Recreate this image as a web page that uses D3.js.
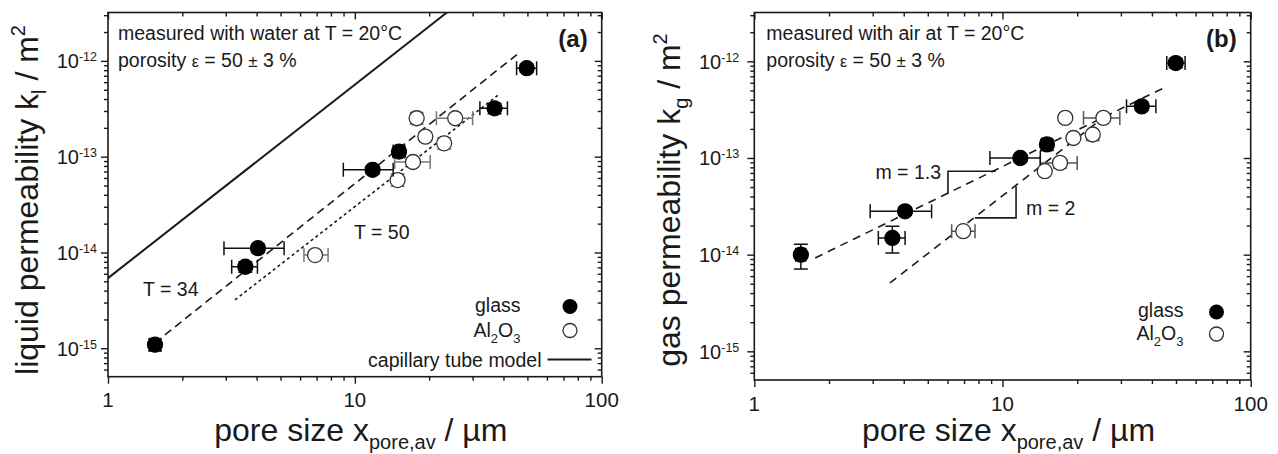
<!DOCTYPE html>
<html>
<head>
<meta charset="utf-8">
<script src="https://cdn.jsdelivr.net/npm/d3@7"></script>
<style>
  html, body { margin: 0; padding: 0; background: #fff; }
  svg { display: block; font-family: "Liberation Sans", Arial, sans-serif; }
</style>
</head>
<body>
<svg id="chart" width="1278" height="454"></svg>
<script>
// ---------- shared ticks ----------
const xTickValues = [1, 10, 100];
const xTickLabels = ["1", "10", "100"];
const yTickValues = [1e-15, 1e-14, 1e-13, 1e-12];
const yTickExps = ["-15", "-14", "-13", "-12"];

// ---------- panel (a): liquid permeability ----------
const aGlassX   = [1.55, 3.6, 4.05, 11.8, 15.1, 36.8, 49.7];
const aGlassK   = [1.09e-15, 7.1e-15, 1.11e-14, 7.3e-14, 1.13e-13, 3.2e-13, 8.4e-13];
const aGlassXLo = [1.48, 3.17, 2.95, 8.98, 14.3, 32.1, 45.2];
const aGlassXHi = [1.63, 4.03, 5.17, 14.3, 15.9, 41.5, 54.5];
const aGlassKLo = [0.94e-15, 6.2e-15, 1.0e-14, 6.6e-14, 1.0e-13, 2.8e-13, 7.6e-13];
const aGlassKHi = [1.25e-15, 8.0e-15, 1.22e-14, 8.0e-14, 1.25e-13, 3.6e-13, 9.2e-13];

const aAlX   = [6.9, 14.9, 17.2, 19.3, 17.8, 23.0, 25.5];
const aAlK   = [9.4e-15, 5.7e-14, 8.8e-14, 1.62e-13, 2.52e-13, 1.38e-13, 2.52e-13];
const aAlXLo = [6.22, 14.3, 14.5, 19.3, 17.1, 22.2, 21.4];
const aAlXHi = [7.79, 15.5, 20.2, 19.3, 18.5, 23.8, 30.0];
const aAlKLo = [8.6e-15, 4.9e-14, 8.8e-14, 1.62e-13, 2.2e-13, 1.2e-13, 2.52e-13];
const aAlKHi = [1.03e-14, 6.6e-14, 8.8e-14, 1.62e-13, 2.9e-13, 1.58e-13, 2.52e-13];

const aCapillaryX = [1, 23.6];
const aCapillaryK = [5.4e-15, 3.2e-12];
const aFitT34X = [1.70, 46.0];
const aFitT34K = [1.38e-15, 1.2e-12];
const aFitT50X = [3.27, 38.1];
const aFitT50K = [3.2e-15, 4.4e-13];

// ---------- panel (b): gas permeability ----------
const bGlassX   = [1.54, 3.6, 4.05, 11.8, 15.1, 36.4, 49.9];
const bGlassK   = [1.0e-14, 1.49e-14, 2.81e-14, 1.0e-13, 1.38e-13, 3.42e-13, 9.6e-13];
const bGlassXLo = [1.47, 3.16, 2.93, 8.9, 14.4, 31.6, 45.9];
const bGlassXHi = [1.61, 4.05, 5.18, 14.2, 15.8, 41.5, 54.4];
const bGlassKLo = [7.1e-15, 1.04e-14, 2.55e-14, 9.2e-14, 1.2e-13, 3.1e-13, 8.6e-13];
const bGlassKHi = [1.28e-14, 1.97e-14, 3.1e-14, 1.08e-13, 1.55e-13, 3.75e-13, 1.07e-12];

const bAlX   = [6.95, 14.8, 17.05, 19.3, 17.9, 23.1, 25.5];
const bAlK   = [1.75e-14, 7.3e-14, 8.9e-14, 1.61e-13, 2.6e-13, 1.75e-13, 2.6e-13];
const bAlXLo = [6.24, 14.8, 14.2, 19.3, 17.9, 23.1, 21.2];
const bAlXHi = [7.75, 14.8, 20.0, 19.3, 17.9, 23.1, 29.7];
const bAlKLo = [1.6e-14, 7.3e-14, 7.9e-14, 1.61e-13, 2.6e-13, 1.52e-13, 2.6e-13];
const bAlKHi = [1.9e-14, 7.3e-14, 8.9e-14, 1.61e-13, 2.6e-13, 1.75e-13, 2.6e-13];

const bFitGlassX = [1.76, 45.9];
const bFitGlassK = [9.25e-15, 5.5e-13];
const bFitAlX = [3.52, 25.9];
const bFitAlK = [5.1e-15, 2.7e-13];
// slope triangles (corner points)
const bTri13X = [6.03, 6.03, 9.38];
const bTri13K = [4.25e-14, 7.29e-14, 7.29e-14];
const bTri2X  = [7.75, 11.34, 11.34];
const bTri2K  = [2.4e-14, 2.4e-14, 5.09e-14];

const xDomain = [1, 100];
const yDomain = [5.05e-16, 3.2e-12];

const svg = d3.select("#chart");
const ink = "#1a1a1a";
const fs = 19.5;

function zip(xs, ys) { return xs.map((x, i) => [x, ys[i]]); }

function drawPanel(p) {
  const g = svg.append("g");
  const x = d3.scaleLog().domain(xDomain).range([p.left, p.right]);
  const y = d3.scaleLog().domain(yDomain).range([p.bottom, p.top]);
  const clipId = "clip" + p.id;
  svg.append("clipPath").attr("id", clipId).append("rect")
    .attr("x", p.left).attr("y", p.top)
    .attr("width", p.right - p.left).attr("height", p.bottom - p.top);

  const xMinor = [];
  [1, 10].forEach(d => { for (let m = 2; m <= 9; m++) xMinor.push(d * m); });
  const yMinor = [];
  [1e-16, 1e-15, 1e-14, 1e-13, 1e-12].forEach(d => {
    for (let m = 2; m <= 9; m++) { const v = d * m; if (v >= yDomain[0] && v <= yDomain[1]) yMinor.push(v); }
  });

  function styleAxis(sel) {
    sel.select(".domain").remove();
    sel.selectAll("line").attr("stroke", ink).attr("stroke-width", 1.4);
    sel.selectAll("text").remove();
  }
  g.append("g").attr("transform", `translate(0,${p.bottom})`)
    .call(d3.axisBottom(x).tickValues(xTickValues).tickSize(7)).call(styleAxis);
  g.append("g").attr("transform", `translate(0,${p.bottom})`)
    .call(d3.axisBottom(x).tickValues(xMinor).tickSize(4)).call(styleAxis);
  g.append("g").attr("transform", `translate(0,${p.top})`)
    .call(d3.axisBottom(x).tickValues(xTickValues).tickSize(7)).call(styleAxis);
  g.append("g").attr("transform", `translate(0,${p.top})`)
    .call(d3.axisBottom(x).tickValues(xMinor).tickSize(4)).call(styleAxis);
  g.append("g").attr("transform", `translate(${p.left},0)`)
    .call(d3.axisLeft(y).tickValues(yTickValues).tickSize(7)).call(styleAxis);
  g.append("g").attr("transform", `translate(${p.left},0)`)
    .call(d3.axisLeft(y).tickValues(yMinor).tickSize(4)).call(styleAxis);
  g.append("g").attr("transform", `translate(${p.right},0)`)
    .call(d3.axisLeft(y).tickValues(yTickValues).tickSize(7)).call(styleAxis);
  g.append("g").attr("transform", `translate(${p.right},0)`)
    .call(d3.axisLeft(y).tickValues(yMinor).tickSize(4)).call(styleAxis);

  g.append("rect").attr("x", p.left).attr("y", p.top)
    .attr("width", p.right - p.left).attr("height", p.bottom - p.top)
    .attr("fill", "none").attr("stroke", ink).attr("stroke-width", 1.6);

  xTickValues.forEach((v, i) => {
    g.append("text").attr("x", x(v)).attr("y", p.bottom + 30.5)
      .attr("text-anchor", "middle").attr("font-size", 20.5).attr("fill", ink)
      .text(xTickLabels[i]);
  });
  yTickValues.forEach((v, i) => {
    const t = g.append("text").attr("x", p.left - p.ylabGap).attr("y", y(v) + 7.5)
      .attr("text-anchor", "end").attr("font-size", 20).attr("fill", ink);
    t.append("tspan").text("10");
    t.append("tspan").attr("font-size", 12.5).attr("dy", -7).text(yTickExps[i]);
  });

  const xt = g.append("text").attr("x", (p.left + p.right) / 2 + 6).attr("y", 441)
    .attr("text-anchor", "middle").attr("font-size", 32).attr("fill", ink);
  xt.append("tspan").text("pore size x");
  xt.append("tspan").attr("font-size", 20).attr("dy", 8).text("pore,av");
  xt.append("tspan").attr("dy", -8).text(" / \u00B5m");

  const yt = g.append("text")
    .attr("transform", `translate(${p.left - p.ytitleOff},200) rotate(-90)`)
    .attr("text-anchor", "middle").attr("font-size", 32).attr("fill", ink);
  yt.append("tspan").text(p.ytitleMain);
  yt.append("tspan").attr("font-size", 20).attr("dy", 8).text(p.ytitleSub);
  yt.append("tspan").attr("dy", -8).text(" / m");
  yt.append("tspan").attr("font-size", 20).attr("dy", -13).text("2");

  g.append("text").attr("x", p.left + p.noteOff).attr("y", 40)
    .attr("font-size", fs).attr("fill", ink).text(p.note1);
  const n2 = g.append("text").attr("x", p.left + p.noteOff).attr("y", 67)
    .attr("font-size", fs).attr("fill", ink);
  n2.append("tspan").text("porosity ");
  n2.append("tspan").attr("font-size", 16).text("\u03B5");
  n2.append("tspan").text(" = 50 ");
  n2.append("tspan").attr("font-size", 17).text("\u00B1");
  n2.append("tspan").text(" 3 %");
  g.append("text").attr("x", p.right - 14).attr("y", 47)
    .attr("text-anchor", "end").attr("font-size", 24).attr("font-weight", "bold")
    .attr("fill", ink).text(p.tag);

  const plot = g.append("g").attr("clip-path", `url(#${clipId})`);
  const line = d3.line().x(d => x(d[0])).y(d => y(d[1]));

  p.lines.forEach(L => {
    plot.append("path").attr("d", line(zip(L.x, L.k)))
      .attr("fill", "none").attr("stroke", ink).attr("stroke-width", L.w)
      .attr("stroke-dasharray", L.dash || null);
  });
  (p.polylines || []).forEach(L => {
    plot.append("path").attr("d", line(zip(L.x, L.k)))
      .attr("fill", "none").attr("stroke", ink).attr("stroke-width", 1.6);
  });

  function drawSeries(s) {
    const cap = 7;
    const col = s.errColor;
    s.x.forEach((xv, i) => {
      const cx = x(xv), cy = y(s.k[i]);
      const x0 = x(s.xLo[i]), x1 = x(s.xHi[i]);
      const y0 = y(s.kLo[i]), y1 = y(s.kHi[i]);
      const eg = plot.append("g").attr("stroke", col).attr("stroke-width", 1.5).attr("fill", "none");
      if (Math.abs(x1 - x0) > 0.5) {
        eg.append("line").attr("x1", x0).attr("x2", x1).attr("y1", cy).attr("y2", cy);
        eg.append("line").attr("x1", x0).attr("x2", x0).attr("y1", cy - cap).attr("y2", cy + cap);
        eg.append("line").attr("x1", x1).attr("x2", x1).attr("y1", cy - cap).attr("y2", cy + cap);
      }
      if (Math.abs(y1 - y0) > 0.5) {
        eg.append("line").attr("x1", cx).attr("x2", cx).attr("y1", y0).attr("y2", y1);
        if (Math.abs(y0 - cy) > 0.5) eg.append("line").attr("x1", cx - cap).attr("x2", cx + cap).attr("y1", y0).attr("y2", y0);
        if (Math.abs(y1 - cy) > 0.5) eg.append("line").attr("x1", cx - cap).attr("x2", cx + cap).attr("y1", y1).attr("y2", y1);
      }
    });
    plot.selectAll(null).data(s.x.map((xv, i) => [xv, s.k[i]])).enter().append("circle")
      .attr("cx", d => x(d[0])).attr("cy", d => y(d[1])).attr("r", 7.5)
      .attr("fill", s.filled ? "#000" : "#fff")
      .attr("stroke", s.filled ? "#000" : "#333").attr("stroke-width", 1.3);
  }
  p.series.forEach(drawSeries);

  p.labels.forEach(l => {
    g.append("text").attr("x", l.x).attr("y", l.y).attr("text-anchor", l.anchor || "start")
      .attr("font-size", fs).attr("fill", ink).text(l.text);
  });

  const L = p.legend;
  g.append("text").attr("x", L.textX).attr("y", L.glassY).attr("text-anchor", "end")
    .attr("font-size", fs).attr("fill", ink).text("glass");
  g.append("circle").attr("cx", L.markX).attr("cy", L.glassY - 5).attr("r", 7.5).attr("fill", "#000");
  const al = g.append("text").attr("x", L.textX).attr("y", L.alY).attr("text-anchor", "end")
    .attr("font-size", fs).attr("fill", ink);
  al.append("tspan").text("Al");
  al.append("tspan").attr("font-size", 13).attr("dy", 6).text("2");
  al.append("tspan").attr("dy", -6).text("O");
  al.append("tspan").attr("font-size", 13).attr("dy", 6).text("3");
  g.append("circle").attr("cx", L.markX).attr("cy", L.alY - 6).attr("r", 7)
    .attr("fill", "#fff").attr("stroke", "#333").attr("stroke-width", 1.3);
  if (L.capY) {
    g.append("text").attr("x", L.textX + 21).attr("y", L.capY).attr("text-anchor", "end")
      .attr("font-size", fs).attr("fill", ink).text("capillary tube model");
    g.append("line").attr("x1", L.textX + 27).attr("x2", L.textX + 71)
      .attr("y1", L.capY - 7).attr("y2", L.capY - 7).attr("stroke", ink).attr("stroke-width", 2);
  }
}

drawPanel({
  id: "a", left: 108, right: 601.7, top: 12.5, bottom: 376.7,
  ylabGap: 11, ytitleOff: 70,
  ytitleMain: "liquid permeability k", ytitleSub: "l",
  noteOff: 10, note1: "measured with water at T = 20\u00B0C", tag: "(a)",
  lines: [
    { x: aCapillaryX, k: aCapillaryK, w: 2 },
    { x: aFitT34X, k: aFitT34K, w: 1.6, dash: "8,5" },
    { x: aFitT50X, k: aFitT50K, w: 1.6, dash: "3,3" }
  ],
  series: [
    { x: aAlX, k: aAlK, xLo: aAlXLo, xHi: aAlXHi, kLo: aAlKLo, kHi: aAlKHi, filled: false, errColor: "#777" },
    { x: aGlassX, k: aGlassK, xLo: aGlassXLo, xHi: aGlassXHi, kLo: aGlassKLo, kHi: aGlassKHi, filled: true, errColor: "#111" }
  ],
  labels: [
    { x: 143, y: 296, text: "T = 34" },
    { x: 354, y: 239, text: "T = 50" }
  ],
  legend: { textX: 520.5, markX: 570, glassY: 311.5, alY: 336.5, capY: 366.5 }
});

drawPanel({
  id: "b", left: 754.3, right: 1250.7, top: 12.5, bottom: 380,
  ylabGap: 15, ytitleOff: 74,
  ytitleMain: "gas permeability k", ytitleSub: "g",
  noteOff: 12, note1: "measured with air at T = 20\u00B0C", tag: "(b)",
  lines: [
    { x: bFitGlassX, k: bFitGlassK, w: 1.6, dash: "8,6" },
    { x: bFitAlX, k: bFitAlK, w: 1.6, dash: "8,6" }
  ],
  polylines: [
    { x: bTri13X, k: bTri13K },
    { x: bTri2X, k: bTri2K }
  ],
  series: [
    { x: bAlX, k: bAlK, xLo: bAlXLo, xHi: bAlXHi, kLo: bAlKLo, kHi: bAlKHi, filled: false, errColor: "#555" },
    { x: bGlassX, k: bGlassK, xLo: bGlassXLo, xHi: bGlassXHi, kLo: bGlassKLo, kHi: bGlassKHi, filled: true, errColor: "#111" }
  ],
  labels: [
    { x: 941, y: 179, text: "m = 1.3", anchor: "end" },
    { x: 1026, y: 215, text: "m = 2" }
  ],
  legend: { textX: 1183.5, markX: 1216.5, glassY: 317, alY: 340 }
});
</script>
</body>
</html>
